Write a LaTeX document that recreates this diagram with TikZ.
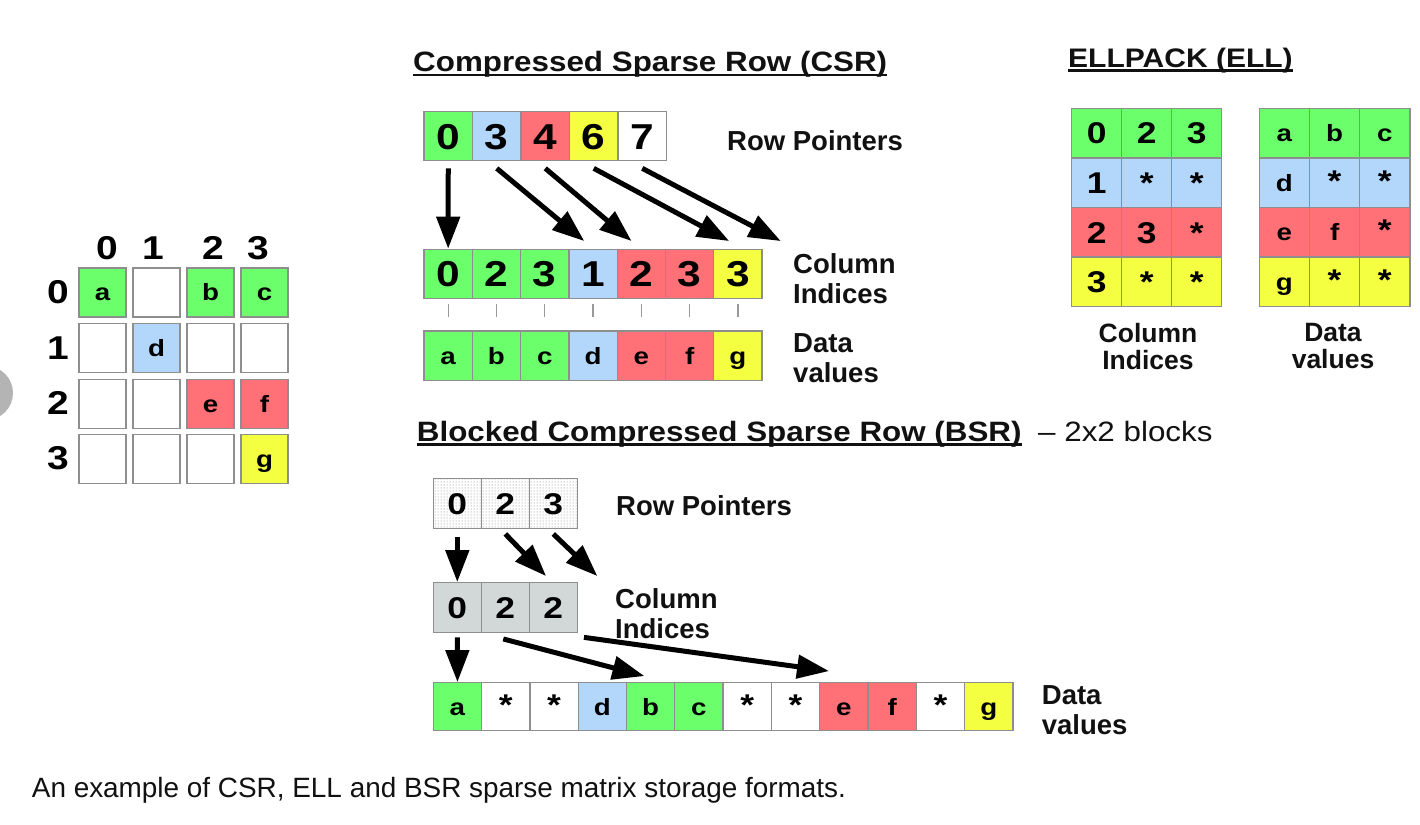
\documentclass[tikz,border=0pt]{standalone}
\usepackage{fontspec}
\setmainfont{Liberation Sans}
\newfontfamily\cf{Liberation Sans}[FakeStretch=1.18]
\newfontfamily\tf{Liberation Sans}[FakeStretch=1.12]
\usetikzlibrary{arrows.meta,patterns}
\definecolor{cg}{HTML}{6BFF6B}
\definecolor{cb}{HTML}{B3D6FB}
\definecolor{cr}{HTML}{FF7077}
\definecolor{cy}{HTML}{F5FF42}
\definecolor{cgr}{HTML}{D2D8D8}
\definecolor{bd}{HTML}{8E8E8E}
\definecolor{cw}{HTML}{FFFFFF}
\definecolor{circ}{HTML}{B4B4B4}
\definecolor{txt}{HTML}{111111}
\newcommand{\fsz}[1]{\fontsize{#1}{#1}\selectfont}
\newcommand{\stx}{{\fsz{30}*}}
\begin{document}
\begin{tikzpicture}[x=1pt,y=-1pt,
  cell/.style={draw=bd,line width=1.3pt,inner sep=0pt,minimum width=48.4pt,minimum height=49pt},
  ecell/.style={cell,minimum width=50pt,minimum height=49.6pt},
  bcell/.style={cell,minimum width=48pt,minimum height=50pt},
  mcell/.style={cell,minimum width=47pt,minimum height=49pt},
  big/.style={font=\cf\bfseries\fsz{36},text height=26pt,text depth=0pt},
  mid/.style={font=\cf\bfseries\fsz{30},text height=21.5pt,text depth=0pt},
  small/.style={font=\cf\bfseries\fsz{23.5},text height=16.8pt,text depth=0pt},
  hdr/.style={font=\cf\bfseries\fsz{33},text height=23.6pt,text depth=0pt,inner sep=0pt},
  lbl/.style={font=\bfseries\fsz{27.5},inner sep=0pt,text=txt},
  lbltwo/.style={font=\bfseries\fontsize{27.5}{30}\selectfont,inner sep=0pt,align=left,text=txt},
  lblell/.style={font=\bfseries\fontsize{26.5}{27}\selectfont,inner sep=0pt,align=center,text=txt},
  ttl/.style={font=\tf\bfseries\fsz{28},inner sep=0pt,text=txt},
  uline/.style={line width=2.5pt,txt},
  tick/.style={line width=1.3pt,gray!80},
  arr/.style={line width=5pt,-{Triangle[length=32pt,width=23pt]}}
]
\fill[white] (0,0) rectangle (1420,824);
\useasboundingbox (0,0) rectangle (1420,824);
\fill[circ] (-14,393) circle[radius=27];

% ---------- left matrix ----------
\foreach \j/\x in {0/107,1/153,2/213,3/258}
  \node[hdr] (ch\j) at (\x,248) {\j};
\foreach \i/\y in {0/292,1/348,2/403,3/458}
  \node[hdr] (rh\i) at (58,\y) {\i};
\foreach \r/\c/\t/\f in {0/0/a/cg,0/1//cw,0/2/b/cg,0/3/c/cg,
                         1/0//cw,1/1/d/cb,1/2//cw,1/3//cw,
                         2/0//cw,2/1//cw,2/2/e/cr,2/3/f/cr,
                         3/0//cw,3/1//cw,3/2//cw,3/3/g/cy}
  \node[mcell,small,fill=\f] (m\r\c) at ({102.5+54*\c},{292.5+55.6*\r}) {\t};

% ---------- CSR ----------
\node[ttl,anchor=base west] (csrt) at (413,72) {Compressed Sparse Row (CSR)};
\draw[uline] ([yshift=-3pt]csrt.base west) -- ([yshift=-3pt]csrt.base east);

\foreach \v/\c [count=\i from 0] in {0/cg,3/cb,4/cr,6/cy,7/cw}
  \node[cell,big,fill=\c,minimum width=48.5pt] (rp\i) at ({448.25+48.5*\i},136.2) {\v};
\foreach \v/\c [count=\i from 0] in {0/cg,2/cg,3/cg,1/cb,2/cr,3/cr,3/cy}
  \node[cell,big,fill=\c,minimum width=48.3pt] (ci\i) at ({448.15+48.3*\i},273.8) {\v};
\foreach \v/\c [count=\i from 0] in {a/cg,b/cg,c/cg,d/cb,e/cr,f/cr,g/cy}
  \node[cell,small,fill=\c,minimum width=48.3pt,minimum height=49.5pt] (dv\i) at ({448.15+48.3*\i},355.8) {\v};
\foreach \i in {0,...,6}
  \draw[tick] ([yshift=-5pt]ci\i.south) -- ([yshift=13pt]dv\i.north);

\node[lbl,anchor=base west] (rplbl) at (727,150) {Row Pointers};
\node[lbltwo,anchor=north west] (cilbl) at (793,253.3) {Column\\Indices};
\node[lbltwo,anchor=north west] (dvlbl) at (793,333.3) {Data\\values};

\draw[arr] ([yshift=-7pt]rp0.south) -- (ci0.north);
\draw[arr] ([yshift=-7pt]rp1.south) -- ([xshift=16pt,yshift=7.6pt]ci3.north west);
\draw[arr] ([yshift=-7pt]rp2.south) -- ([xshift=15pt,yshift=7.6pt]ci4.north west);
\draw[arr] ([yshift=-7pt]rp3.south) -- ([xshift=16pt,yshift=7.6pt]ci6.north west);
\draw[arr] ([yshift=-7pt]rp4.south) -- ([xshift=18pt,yshift=7.6pt]ci6.north east);

% ---------- ELL ----------
\node[ttl,font=\tf\bfseries\fsz{26.8},anchor=base west] (ellt) at (1068,67.5) {ELLPACK (ELL)};
\draw[uline] ([yshift=-3pt]ellt.base west) -- ([yshift=-3pt]ellt.base east);

\foreach \a/\b/\cc/\col [count=\r from 0] in {0/2/3/cg,1/*/*/cb,2/3/*/cr,3/*/*/cy}{
  \node[ecell,mid,fill=\col] (ec\r a) at (1096.7,{133.1+49.6*\r}) {\a};
  \node[ecell,mid,fill=\col] (ec\r b) at (1146.7,{133.1+49.6*\r}) {\b};
  \node[ecell,mid,fill=\col] (ec\r c) at (1196.7,{133.1+49.6*\r}) {\cc};
}
\foreach \a/\b/\cc/\col [count=\r from 0] in {a/b/c/cg,d/\stx/\stx/cb,e/f/\stx/cr,g/\stx/\stx/cy}{
  \node[ecell,small,fill=\col,minimum width=50.2pt] (ed\r a) at (1284.4,{133.1+49.6*\r}) {\a};
  \node[ecell,small,fill=\col,minimum width=50.2pt] (ed\r b) at (1334.6,{133.1+49.6*\r}) {\b};
  \node[ecell,small,fill=\col,minimum width=50.2pt] (ed\r c) at (1384.8,{133.1+49.6*\r}) {\cc};
}
\node[lblell,anchor=north] (ecl) at (1148,323.3) {Column\\Indices};
\node[lblell,anchor=north] (edl) at (1333,323.3) {Data\\values};

% ---------- BSR ----------
\node[ttl,anchor=base west] (bsrt) at (416.7,441.7) {Blocked Compressed Sparse Row (BSR)};
\draw[uline] ([yshift=-3pt]bsrt.base west) -- ([yshift=-3pt]bsrt.base east);
\node[ttl,font=\tf\fsz{28},anchor=base west] (bsrs) at (1038,441.7) {– 2x2 blocks};

\foreach \v [count=\i from 0] in {0,2,3}
  \node[bcell,mid,pattern=dots,pattern color=gray] (brp\i) at ({457.3+48*\i},503.3) {\v};
\foreach \v [count=\i from 0] in {0,2,2}
  \node[bcell,mid,fill=cgr] (bci\i) at ({457.3+48*\i},607.7) {\v};
\foreach \v/\c [count=\i from 0] in {a/cg,\stx/cw,\stx/cw,d/cb,b/cg,c/cg,\stx/cw,\stx/cw,e/cr,f/cr,\stx/cw,g/cy}
  \node[cell,small,fill=\c,minimum width=48.3pt,minimum height=48pt] (bd\i) at ({457.45+48.3*\i},706.7) {\v};

\node[lbl,anchor=base west] (brpl) at (616,515) {Row Pointers};
\node[lbltwo,anchor=north west] (bcil) at (615,588.3) {Column\\Indices};
\node[lbltwo,anchor=north west] (bdl) at (1041.7,685) {Data\\values};

\draw[arr] ([yshift=-7.7pt]brp0.south) -- (bci0.north);
\draw[arr] ([yshift=-5pt]brp1.south) -- ([xshift=17.4pt,yshift=6pt]bci2.north west);
\draw[arr] ([yshift=-5pt]brp2.south) -- ([xshift=19.4pt,yshift=6pt]bci2.north east);
\draw[arr] ([yshift=-4pt]bci0.south) -- (bd0.north);
\draw[arr] ([xshift=-2pt,yshift=-5.6pt]bci1.south) -- ([xshift=18.5pt,yshift=6pt]bd4.north west);
\draw[arr] ([xshift=6pt,yshift=-4pt]bci2.south east) -- ([xshift=10pt,yshift=11pt]bd8.north west);

% ---------- caption ----------
\node[font=\fsz{27.9},inner sep=0pt,anchor=base west,text=txt] (cap) at (31.7,797.3)
  {An example of CSR, ELL and BSR sparse matrix storage formats.};
\end{tikzpicture}
\end{document}
